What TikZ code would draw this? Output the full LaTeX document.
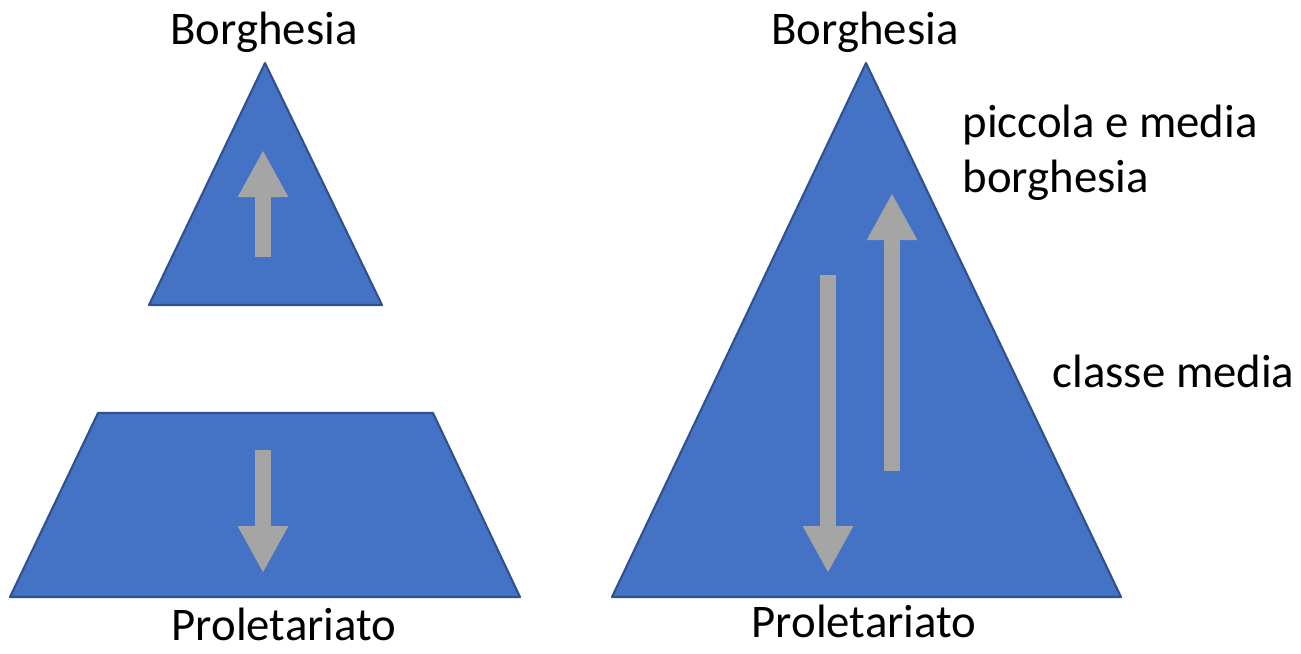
\documentclass[tikz,border=0pt]{standalone}
\usepackage{fontspec}
\setmainfont{Carlito}
\usetikzlibrary{arrows.meta}
\definecolor{blu}{HTML}{4472C4}
\definecolor{bordo}{HTML}{2F528F}
\definecolor{grigio}{HTML}{A5A5A5}
\begin{document}
\begin{tikzpicture}[x=0.01cm,y=-0.01cm,
    classe/.style={fill=blu,draw=bordo,line width=0.6pt,line join=round},
    freccia/.style={draw=grigio,line width=0.16cm,-{Triangle[width=0.47cm,length=0.47cm]}},
    etichetta/.style={inner sep=0pt,font=\fontsize{13.3}{16}\selectfont}]

    % Margini
    \useasboundingbox (0,0) rectangle (1301,653);

    % Triangolo piccolo (borghesia)
    \coordinate (A) at (265,63);  % Vertice superiore
    \coordinate (B) at (149,305); % Sinistra
    \coordinate (C) at (382,305); % Destra
    \draw[classe] (A) -- (C) -- (B) -- cycle;

    % Trapezio (proletariato)
    \draw[classe] (98,413) -- (433,413) -- (520,597) -- (10,597) -- cycle;

    % Triangolo grande
    \coordinate (D) at (866,63);   % Vertice superiore
    \coordinate (E) at (612,597);  % Sinistra
    \coordinate (F) at (1121,597); % Destra
    \draw[classe] (D) -- (F) -- (E) -- cycle;

    % Frecce
    \draw[freccia] (263,257) -- (263,150);
    \draw[freccia] (263,450) -- (263,573);
    \draw[freccia] (828,275) -- (828,573);
    \draw[freccia] (892,471) -- (892,193);

    % Annotazioni
    \node[etichetta,anchor=base] (borgS) at (264,44) {Borghesia};
    \node[etichetta,anchor=base] (proS) at (284,640) {Proletariato};
    \node[etichetta,anchor=base] (borgG) at (865,44) {Borghesia};
    \node[etichetta,anchor=base] (proG) at (864,637) {Proletariato};
    \node[etichetta,anchor=base west] (piccola) at (962,137) {piccola e media};
    \node[etichetta,anchor=base west] (piccola2) at (962,192) {borghesia};
    \node[etichetta,anchor=base west] (media) at (1052,387) {classe media};

\end{tikzpicture}
\end{document}
